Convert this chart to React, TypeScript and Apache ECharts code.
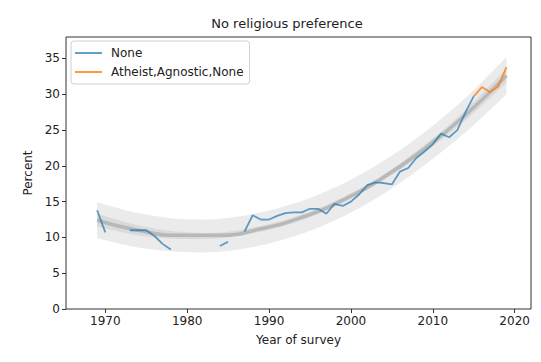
import React, { useEffect, useRef } from "react";
import * as echarts from "echarts";

const noneYears = [
  1969, 1970, 1971, 1972, 1973, 1974, 1975, 1976, 1977, 1978, 1979, 1980,
  1981, 1982, 1983, 1984, 1985, 1986, 1987, 1988, 1989, 1990, 1991, 1992,
  1993, 1994, 1995, 1996, 1997, 1998, 1999, 2000, 2001, 2002, 2003, 2004,
  2005, 2006, 2007, 2008, 2009, 2010, 2011, 2012, 2013, 2014, 2015,
];
const noneValues = [
  13.8, 10.7, null, null, 11.0, 11.0, 11.0, 10.2, 9.1, 8.3, null, null,
  null, null, null, 8.8, 9.4, null, 10.8, 13.1, 12.5, 12.5, 13.0, 13.4,
  13.5, 13.5, 14.0, 14.0, 13.3, 14.7, 14.4, 15.0, 16.0, 17.3, 17.7, 17.6,
  17.4, 19.2, 19.7, 21.1, 22.0, 23.0, 24.5, 24.0, 25.0, 27.5, 29.7,
];
const aanYears = [2015, 2016, 2017, 2018, 2019];
const aanValues = [29.7, 31.0, 30.3, 31.1, 33.8];

const fitYears = [1969, 1974, 1979, 1984, 1989, 1994, 1999, 2004, 2009, 2014, 2019];
const fitMean = [12.4, 11.0, 10.3, 10.3, 11.2, 12.8, 15.2, 18.4, 22.4, 27.1, 32.6];
const outerLow = [9.9, 8.6, 8.0, 8.0, 8.9, 10.5, 12.9, 16.1, 20.1, 24.7, 30.0];
const outerHigh = [14.9, 13.4, 12.6, 12.6, 13.5, 15.1, 17.5, 20.7, 24.7, 29.5, 35.2];
const innerLow = [11.5, 10.3, 9.8, 9.9, 10.8, 12.4, 14.8, 18.0, 21.9, 26.4, 31.6];
const innerHigh = [13.3, 11.7, 10.8, 10.7, 11.6, 13.2, 15.6, 18.8, 22.9, 27.8, 33.6];

const xTicks = [1970, 1980, 1990, 2000, 2010, 2020];
const yTicks = [0, 5, 10, 15, 20, 25, 30, 35];

const FONT = "DejaVu Sans";
const TXT = "#222";

type Pt = number[];

// Catmull-Rom sampling of pixel-space points (rendering only)
function smoothPts(pts: Pt[], steps = 8): Pt[] {
  const out: Pt[] = [];
  for (let i = 0; i < pts.length - 1; i++) {
    const p0 = pts[Math.max(0, i - 1)];
    const p1 = pts[i];
    const p2 = pts[i + 1];
    const p3 = pts[Math.min(pts.length - 1, i + 2)];
    for (let s = 0; s < steps; s++) {
      const t = s / steps;
      const t2 = t * t;
      const t3 = t2 * t;
      const f = (a: number, b: number, c: number, d: number) =>
        0.5 * (2 * b + (-a + c) * t + (2 * a - 5 * b + 4 * c - d) * t2 + (-a + 3 * b - 3 * c + d) * t3);
      out.push([f(p0[0], p1[0], p2[0], p3[0]), f(p0[1], p1[1], p2[1], p3[1])]);
    }
  }
  out.push(pts[pts.length - 1]);
  return out;
}

function bandSeries(name: string, lo: number[], hi: number[], fill: string) {
  return {
    type: "custom",
    name,
    silent: true,
    clip: true,
    data: fitYears.map((y, i) => [y, lo[i], hi[i]]),
    encode: { x: 0, y: [1, 2] },
    renderItem: (params: any, api: any) => {
      if (params.dataIndex !== 0) return null;
      const up = fitYears.map((y, i) => api.coord([y, hi[i]]));
      const dn = fitYears.map((y, i) => api.coord([y, lo[i]]));
      const pts = smoothPts(up).concat(smoothPts(dn).reverse());
      return { type: "polygon", shape: { points: pts }, style: { fill, stroke: "none" } };
    },
  };
}

export default function App() {
  const ref = useRef<HTMLDivElement>(null);
  useEffect(() => {
    if (!ref.current) return;
    const chart = echarts.init(ref.current, undefined, { renderer: "svg" });
    const pairs = (xs: number[], ys: (number | null)[]) =>
      xs.map((x, i) => [x, ys[i] === null ? "-" : ys[i]]);
    chart.setOption({
      animation: false,
      textStyle: { fontFamily: FONT },
      title: {
        text: "No religious preference",
        left: 282,
        textAlign: "center",
        top: 12,
        textStyle: { fontFamily: FONT, fontSize: 13, fontWeight: "normal", color: TXT },
      },
      legend: {
        data: [
          { name: "None", icon: "rect" },
          { name: "Atheist,Agnostic,None", icon: "rect" },
        ],
        orient: "vertical",
        left: 71,
        top: 41,
        padding: [5, 6, 5, 4],
        itemGap: 5,
        itemWidth: 27,
        itemHeight: 2,
        borderColor: "#d0d0d0",
        borderWidth: 1,
        borderRadius: 3,
        backgroundColor: "rgba(255,255,255,0.8)",
        textStyle: { fontFamily: FONT, fontSize: 12, color: TXT, padding: [0, 0, 0, 4], lineHeight: 14 },
      },
      grid: {
        left: 66,
        top: 37,
        width: 465,
        height: 272,
        show: true,
        borderColor: "#333",
        borderWidth: 1,
        backgroundColor: "transparent",
      },
      xAxis: {
        type: "value",
        min: 1965.2,
        max: 2022,
        name: "Year of survey",
        nameLocation: "middle",
        nameGap: 25,
        nameTextStyle: { fontFamily: FONT, fontSize: 12, color: TXT },
        splitLine: { show: false },
        axisLine: { show: false },
        axisTick: { show: true, length: 4, lineStyle: { color: "#333" }, customValues: xTicks },
        axisLabel: {
          fontFamily: FONT,
          fontSize: 12,
          color: TXT,
          margin: 6,
          customValues: xTicks,
          formatter: (v: number) => String(v),
        },
      },
      yAxis: {
        type: "value",
        min: 0,
        max: 38,
        name: "Percent",
        nameLocation: "middle",
        nameGap: 32,
        nameRotate: 90,
        nameTextStyle: { fontFamily: FONT, fontSize: 12, color: TXT },
        splitLine: { show: false },
        axisLine: { show: false },
        axisTick: { show: true, length: 4, lineStyle: { color: "#333" }, customValues: yTicks },
        axisLabel: {
          fontFamily: FONT,
          fontSize: 12,
          color: TXT,
          margin: 6,
          customValues: yTicks,
        },
      },
      series: [
        bandSeries("outer", outerLow, outerHigh, "#ebebeb"),
        bandSeries("inner", innerLow, innerHigh, "#dadada"),
        {
          type: "line",
          name: "fit",
          smooth: true,
          symbol: "none",
          silent: true,
          lineStyle: { width: 3.5, color: "#b8b8b8" },
          data: pairs(fitYears, fitMean),
        },
        {
          type: "line",
          name: "None",
          symbol: "none",
          connectNulls: false,
          color: "#1f77b4",
          lineStyle: { width: 1.8, color: "#1f77b4", opacity: 0.7 },
          itemStyle: { color: "#1f77b4", opacity: 0.7 },
          data: pairs(noneYears, noneValues),
        },
        {
          type: "line",
          name: "Atheist,Agnostic,None",
          symbol: "none",
          color: "#ff7f0e",
          lineStyle: { width: 1.8, color: "#ff7f0e", opacity: 0.8 },
          itemStyle: { color: "#ff7f0e", opacity: 0.8 },
          data: pairs(aanYears, aanValues),
        },
      ],
    });
    return () => chart.dispose();
  }, []);
  return <div ref={ref} style={{ width: 541, height: 362, position: "absolute", left: 0, top: 0 }} />;
}
